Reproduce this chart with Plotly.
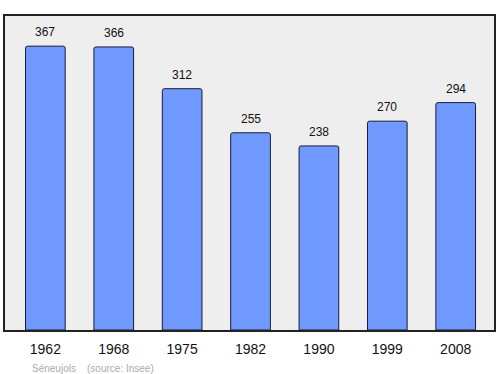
import plotly.graph_objects as go

years = ["1962", "1968", "1975", "1982", "1990", "1999", "2008"]
population = [367, 366, 312, 255, 238, 270, 294]

fig = go.Figure()
fig.add_trace(go.Bar(
    x=list(range(len(years))), y=population,
    width=0.58,
    marker=dict(color="#7099ff", line=dict(color="#1a1a3a", width=1), cornerradius=2),
    hoverinfo="skip",
))
for i, v in enumerate(population):
    fig.add_annotation(x=i, y=v, text=str(v), showarrow=False, yshift=14,
                       font=dict(family="Liberation Sans, Arial, sans-serif", size=12, color="#111"))

fig.add_annotation(xref="paper", yref="paper", x=0.052, y=-0.122, xanchor="left", yanchor="middle",
                   text="Séneujols &nbsp;&nbsp; (source: Insee)", showarrow=False,
                   font=dict(family="Liberation Sans, Arial, sans-serif", size=10, color="#aaaaaa"))

fig.update_layout(
    width=500, height=374,
    margin=dict(l=5, r=4, t=16, b=44),
    paper_bgcolor="white", plot_bgcolor="#eeeeee",
    showlegend=False,
    xaxis=dict(range=[-0.59, 6.56], tickmode="array", tickvals=list(range(len(years))),
               ticktext=years, showgrid=False, zeroline=False, ticks="",
               ticklabelstandoff=5,
               showline=True, linecolor="#222", linewidth=1.5, mirror=True,
               tickfont=dict(family="Liberation Sans, Arial, sans-serif", size=14, color="#111")),
    yaxis=dict(range=[0, 406], showgrid=False, zeroline=False, showticklabels=False, ticks="",
               showline=True, linecolor="#222", linewidth=1.5, mirror=True),
)
fig.write_html("out.html")
